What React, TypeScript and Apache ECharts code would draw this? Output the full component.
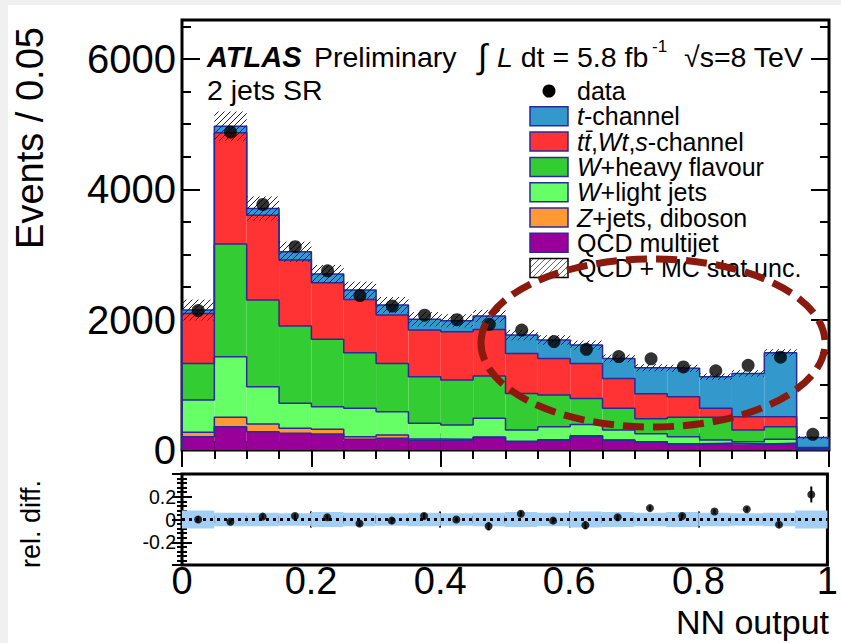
import React, { useEffect, useRef } from "react";
import * as echarts from "echarts";

// Binning of the NN output (lower bin edges), 20 bins of width 0.05
const binLow = [0, 0.05, 0.1, 0.15, 0.2, 0.25, 0.3, 0.35, 0.4, 0.45, 0.5, 0.55, 0.6, 0.65, 0.7, 0.75, 0.8, 0.85, 0.9, 0.95];
const BIN_WIDTH = 0.05;

// Expected events per bin, stacked bottom to top
const qcdMultijet = [205, 358, 281, 256, 245, 164, 179, 150, 150, 190, 125, 150, 210, 148, 123, 90, 99, 90, 100, 5];
const zJetsDiboson = [66, 143, 118, 76, 72, 41, 51, 20, 15, 10, 8, 8, 8, 5, 5, 5, 3, 2, 2, 0];
const wLightJets = [496, 931, 572, 384, 348, 434, 358, 240, 219, 286, 174, 200, 172, 154, 123, 110, 51, 36, 62, 5];
const wHeavyFlavour = [562, 1728, 1330, 1186, 1033, 854, 741, 716, 690, 649, 562, 486, 400, 332, 230, 296, 348, 179, 194, 10];
const ttbarWtSChannel = [768, 1708, 1304, 1013, 869, 818, 742, 716, 741, 716, 614, 562, 539, 460, 383, 317, 138, 204, 153, 20];
const tChannel = [51, 102, 102, 127, 133, 143, 153, 165, 169, 205, 281, 281, 281, 307, 399, 435, 486, 665, 982, 150];

// QCD + MC statistical uncertainty on the total prediction (events)
const statUnc = [160, 225, 185, 155, 140, 130, 125, 110, 100, 95, 80, 75, 70, 60, 55, 55, 50, 50, 55, 25];

// Observed events
const dataEvents = [2140, 4880, 3770, 3120, 2750, 2370, 2210, 2070, 2000, 1930, 1840, 1665, 1545, 1435, 1400, 1275, 1215, 1300, 1425, 240];

// Lower panel: relative difference (data - MC) / MC
const relDiff = [0.0, -0.02, 0.025, 0.03, 0.02, -0.035, -0.01, 0.03, 0.0, -0.06, 0.05, -0.01, -0.05, 0.02, 0.1, 0.03, 0.07, 0.09, -0.045, 0.22];
const relDiffErr = [0.03, 0.015, 0.02, 0.02, 0.02, 0.025, 0.025, 0.025, 0.02, 0.035, 0.025, 0.02, 0.035, 0.02, 0.02, 0.02, 0.02, 0.02, 0.025, 0.07];
const relBand = [0.08, 0.06, 0.06, 0.055, 0.065, 0.06, 0.055, 0.06, 0.055, 0.06, 0.065, 0.06, 0.07, 0.065, 0.06, 0.065, 0.06, 0.055, 0.06, 0.08];

const xTickLabels = ["0", "0.2", "0.4", "0.6", "0.8", "1"];

const FONT = '"Liberation Sans", Arial, Helvetica, sans-serif';
const OUTLINE = "#2a2a99";
const HATCH = "#222";

const COLORS = {
  qcd: "#990099",
  z: "#ff9933",
  wlight: "#66ff66",
  wheavy: "#33cc33",
  top: "#ff3333",
  tchan: "#3399cc",
};

const components = [
  { values: qcdMultijet, color: COLORS.qcd },
  { values: zJetsDiboson, color: COLORS.z },
  { values: wLightJets, color: COLORS.wlight },
  { values: wHeavyFlavour, color: COLORS.wheavy },
  { values: ttbarWtSChannel, color: COLORS.top },
  { values: tChannel, color: COLORS.tchan },
];

// "/" hatching clipped to a pixel rectangle
function hatchLines(x0: number, y0: number, x1: number, y1: number, spacing: number, color: string) {
  const out: any[] = [];
  const start = Math.ceil((x0 + y0) / spacing) * spacing;
  for (let c = start; c <= x1 + y1; c += spacing) {
    const xa = Math.max(x0, c - y1);
    const xb = Math.min(x1, c - y0);
    if (xb > xa) {
      out.push({
        type: "line",
        shape: { x1: xa, y1: c - xa, x2: xb, y2: c - xb },
        style: { stroke: color, lineWidth: 1 },
      });
    }
  }
  return out;
}

function buildOption() {
  // cumulative stack boundaries
  let running = binLow.map(() => 0);
  const stacks = components.map((c) => {
    const lower = running;
    const upper = running.map((v, i) => v + c.values[i]);
    running = upper;
    return { lower, upper, color: c.color };
  });
  const totalMC = running;

  const fillSeries = stacks.map((s) => ({
    type: "custom",
    xAxisIndex: 0,
    yAxisIndex: 0,
    silent: true,
    z: 2,
    data: binLow.map((x, i) => [x, x + BIN_WIDTH, s.lower[i], s.upper[i]]),
    encode: { x: [0, 1], y: [2, 3] },
    renderItem: (_p: any, api: any) => {
      const a = api.coord([api.value(0), api.value(2)]);
      const b = api.coord([api.value(1), api.value(3)]);
      return {
        type: "rect",
        shape: { x: a[0], y: b[1], width: b[0] - a[0], height: a[1] - b[1] },
        style: { fill: s.color },
      };
    },
  }));

  const outlineSeries = stacks.map((s) => ({
    type: "line",
    xAxisIndex: 0,
    yAxisIndex: 0,
    step: "end",
    symbol: "none",
    silent: true,
    z: 3,
    lineStyle: { color: OUTLINE, width: 1.5 },
    data: [[0, 0], ...binLow.map((x, i) => [x, s.upper[i]]), [1, 0]],
  }));

  const hatchSeries = {
    type: "custom",
    xAxisIndex: 0,
    yAxisIndex: 0,
    silent: true,
    z: 4,
    data: binLow.map((x, i) => [x, x + BIN_WIDTH, totalMC[i] - statUnc[i], totalMC[i] + statUnc[i]]),
    encode: { x: [0, 1], y: [2, 3] },
    renderItem: (_p: any, api: any) => {
      const a = api.coord([api.value(0), api.value(2)]);
      const b = api.coord([api.value(1), api.value(3)]);
      return { type: "group", children: hatchLines(a[0], b[1], b[0], a[1], 6, HATCH) };
    },
  };

  const dataSeries = {
    type: "scatter",
    xAxisIndex: 0,
    yAxisIndex: 0,
    symbol: "circle",
    symbolSize: 13,
    z: 5,
    itemStyle: { color: "#000" },
    data: binLow.map((x, i) => [x + BIN_WIDTH / 2, dataEvents[i]]),
  };

  const bandSeries = {
    type: "custom",
    xAxisIndex: 2,
    yAxisIndex: 4,
    silent: true,
    z: 2,
    data: binLow.map((x, i) => [x, x + BIN_WIDTH, -relBand[i], relBand[i]]),
    encode: { x: [0, 1], y: [2, 3] },
    renderItem: (_p: any, api: any) => {
      const a = api.coord([api.value(0), api.value(2)]);
      const b = api.coord([api.value(1), api.value(3)]);
      return {
        type: "rect",
        shape: { x: a[0], y: b[1], width: b[0] - a[0], height: a[1] - b[1] },
        style: { fill: "#a4cff5" },
      };
    },
  };

  const zeroLine = {
    type: "line",
    xAxisIndex: 2,
    yAxisIndex: 4,
    symbol: "none",
    silent: true,
    z: 3,
    lineStyle: { color: "#000", width: 3, type: [3, 4] },
    data: [[0, 0], [1, 0]],
  };

  const ratioErrSeries = {
    type: "custom",
    xAxisIndex: 2,
    yAxisIndex: 4,
    silent: true,
    z: 4,
    data: binLow.map((x, i) => [x + BIN_WIDTH / 2, relDiff[i], relDiffErr[i]]),
    encode: { x: 0, y: 1 },
    renderItem: (_p: any, api: any) => {
      const x = api.value(0), y = api.value(1), e = api.value(2);
      const a = api.coord([x, y - e]);
      const b = api.coord([x, y + e]);
      return { type: "line", shape: { x1: a[0], y1: a[1], x2: b[0], y2: b[1] }, style: { stroke: "#000", lineWidth: 2 } };
    },
  };

  const ratioPoints = {
    type: "scatter",
    xAxisIndex: 2,
    yAxisIndex: 4,
    symbol: "circle",
    symbolSize: 8,
    z: 5,
    itemStyle: { color: "#000" },
    data: binLow.map((x, i) => [x + BIN_WIDTH / 2, relDiff[i]]),
  };

  const tick = { color: "#000", width: 2 };
  const xAx = (gridIndex: number, position: string, len: number, minorLen: number, labels: boolean) => ({
    gridIndex,
    type: "value",
    min: 0,
    max: 1,
    interval: 0.2,
    position,
    axisLine: { show: false },
    splitLine: { show: false },
    axisTick: { inside: true, length: len, lineStyle: tick },
    minorTick: { show: true, splitNumber: 4, length: minorLen, lineStyle: tick },
    axisLabel: labels
      ? {
          show: true,
          fontFamily: FONT,
          fontSize: 38,
          lineHeight: 30,
          color: "#000",
          margin: 1,
          formatter: (v: number) => xTickLabels[Math.round(v / 0.2)] ?? "",
        }
      : { show: false },
  });

  const yMain = (position: string, interval: number, len: number, labels: boolean) => ({
    gridIndex: 0,
    type: "value",
    min: 0,
    max: 6600,
    interval,
    position,
    axisLine: { show: false },
    splitLine: { show: false },
    axisTick: { inside: true, length: len, lineStyle: tick },
    axisLabel: labels
      ? {
          show: true,
          fontFamily: FONT,
          fontSize: 40,
          lineHeight: 32,
          color: "#000",
          margin: 6,
          formatter: (v: number) => (v % 2000 === 0 ? String(v) : ""),
        }
      : { show: false },
  });

  const yRatio = (position: string, labels: boolean) => ({
    gridIndex: 1,
    type: "value",
    min: -0.4,
    max: 0.4,
    interval: 0.2,
    position,
    axisLine: { show: false },
    splitLine: { show: false },
    axisTick: { inside: true, length: 10, lineStyle: tick },
    minorTick: { show: true, splitNumber: 5, length: 5, lineStyle: tick },
    axisLabel: labels
      ? {
          show: true,
          fontFamily: FONT,
          fontSize: 19.5,
          lineHeight: 18,
          color: "#000",
          margin: 6,
          formatter: (v: number) => {
            const r = Math.round(v * 10) / 10;
            if (Math.abs(r) > 0.3) return "";
            return r === 0 ? "0" : String(r);
          },
        }
      : { show: false },
  });

  // legend block
  const legendRows = [
    { kind: "data", label: "data" },
    { kind: "fill", color: COLORS.tchan, label: "{i|t}-channel" },
    { kind: "fill", color: COLORS.top, label: "{i|tt\u0304},{i|Wt},{i|s}-channel" },
    { kind: "fill", color: COLORS.wheavy, label: "{i|W}+heavy flavour" },
    { kind: "fill", color: COLORS.wlight, label: "{i|W}+light jets" },
    { kind: "fill", color: COLORS.z, label: "{i|Z}+jets, diboson" },
    { kind: "fill", color: COLORS.qcd, label: "QCD multijet" },
    { kind: "hatch", label: "QCD + MC stat unc." },
  ];
  const legendFont = 25;
  const legendGraphics: any[] = [];
  legendRows.forEach((row, i) => {
    const cy = 91 + i * 25.3;
    if (row.kind === "data") {
      legendGraphics.push({ type: "circle", shape: { cx: 549, cy, r: 6.5 }, style: { fill: "#000" } });
    } else if (row.kind === "fill") {
      legendGraphics.push({
        type: "rect",
        shape: { x: 530, y: cy - 9.5, width: 38, height: 19 },
        style: { fill: row.color, stroke: OUTLINE, lineWidth: 1.5 },
      });
    } else {
      legendGraphics.push({ type: "rect", shape: { x: 530, y: cy - 9.5, width: 38, height: 19 }, style: { fill: "#fff" } });
      legendGraphics.push(...hatchLines(530, cy - 9.5, 568, cy + 9.5, 6, "#666"));
      legendGraphics.push({
        type: "rect",
        shape: { x: 530, y: cy - 9.5, width: 38, height: 19 },
        style: { fill: "none", stroke: "#000", lineWidth: 1.5 },
      });
    }
    legendGraphics.push({
      type: "text",
      x: 577,
      y: cy,
      style: {
        text: row.label,
        fontFamily: FONT,
        fontSize: legendFont,
        lineHeight: 22,
        fill: "#000",
        align: "left",
        verticalAlign: "middle",
        textAlign: "left",
        textVerticalAlign: "middle",
        rich: { i: { fontStyle: "italic", fontFamily: FONT, fontSize: legendFont, lineHeight: 22, fill: "#000" } },
      },
    });
  });

  const txt = (text: string, x: number, y: number, size: number, extra: any = {}, el: any = {}) => ({
    type: "text",
    x,
    y,
    ...el,
    style: {
      text,
      fontFamily: FONT,
      fontSize: size,
      fill: "#000",
      align: "left",
      verticalAlign: "middle",
      textAlign: "left",
      textVerticalAlign: "middle",
      ...extra,
    },
  });

  const graphic: any[] = [
    { type: "rect", shape: { x: 0, y: 0, width: 841, height: 5 }, style: { fill: "#f0f0f0" } },
    { type: "rect", shape: { x: 0, y: 0, width: 8, height: 643 }, style: { fill: "#f0f0f0" } },
    txt("ATLAS", 207, 57, 29, { fontWeight: "bold", fontStyle: "italic" }),
    txt("Preliminary", 314, 57, 28.5),
    txt("\u222B", 478, 56, 34),
    txt("{i|L} dt = 5.8 fb", 497, 57, 28.5, {
      rich: { i: { fontStyle: "italic", fontFamily: FONT, fontSize: 28.5, fill: "#000" } },
    }),
    txt("-1", 652, 46, 17),
    txt("\u221As=8 TeV", 684, 57, 28.5),
    txt("2 jets SR", 207, 90, 28.5),
    txt("Events / 0.05", 30, 138, 38, { align: "center", textAlign: "center" }, { rotation: Math.PI / 2 }),
    txt("rel. diff.", 31, 524, 27, { align: "center", textAlign: "center" }, { rotation: Math.PI / 2 }),
    txt("NN output", 829, 622, 34, { align: "right", textAlign: "right", lineHeight: 28 }),
    ...legendGraphics,
    {
      type: "ellipse",
      z: 100,
      shape: { cx: 653, cy: 343, rx: 172, ry: 84 },
      style: { fill: "none", stroke: "#8b1a0e", lineWidth: 7, lineDash: [21, 9] },
    },
  ];

  return {
    animation: false,
    backgroundColor: "#fff",
    grid: [
      { left: 182, top: 20, width: 647, height: 430, show: true, borderColor: "#000", borderWidth: 3, backgroundColor: "transparent" },
      { left: 182, top: 474, width: 647, height: 91, show: true, borderColor: "#000", borderWidth: 3, backgroundColor: "transparent" },
    ],
    xAxis: [
      xAx(0, "bottom", 17, 9, false),
      xAx(0, "top", 17, 9, false),
      xAx(1, "bottom", 8, 4, true),
      xAx(1, "top", 8, 4, false),
    ],
    yAxis: [
      yMain("left", 2000, 18, true),
      yMain("left", 500, 9, false),
      yMain("right", 2000, 18, false),
      yMain("right", 500, 9, false),
      yRatio("left", true),
      yRatio("right", false),
    ],
    series: [
      ...fillSeries,
      ...outlineSeries,
      hatchSeries,
      dataSeries,
      bandSeries,
      zeroLine,
      ratioErrSeries,
      ratioPoints,
    ],
    graphic,
  };
}

export default function App() {
  const ref = useRef<HTMLDivElement>(null);
  useEffect(() => {
    if (!ref.current) return;
    const chart = echarts.init(ref.current, undefined, { renderer: "svg" });
    chart.setOption(buildOption() as any);
    return () => chart.dispose();
  }, []);
  return (
    <div
      ref={ref}
      style={{ position: "fixed", left: 0, top: 0, width: 841, height: 643, background: "#fff" }}
    />
  );
}
